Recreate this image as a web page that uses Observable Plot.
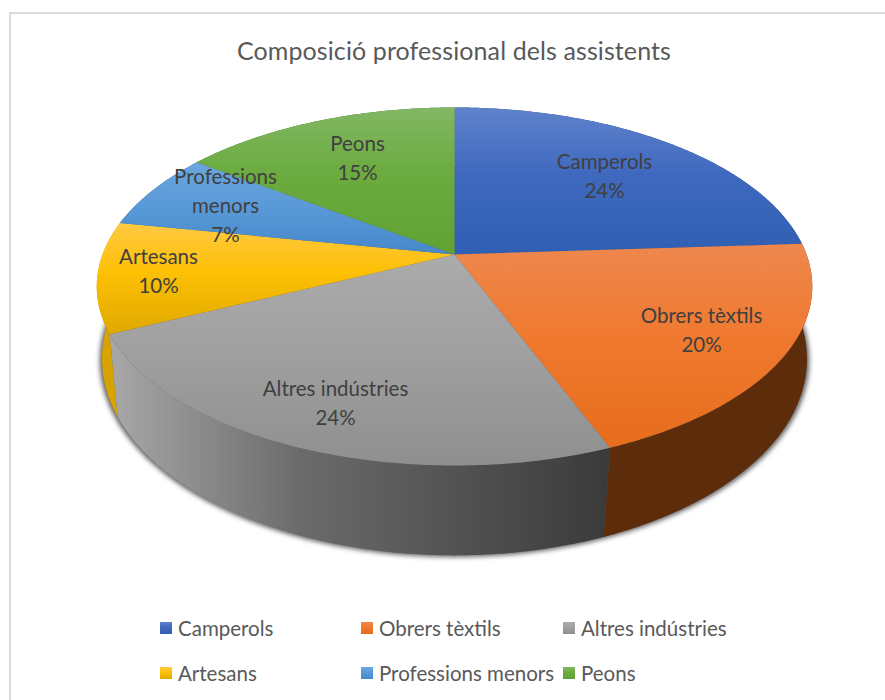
<!DOCTYPE html>
<html>
<head>
<meta charset="utf-8">
<script src="https://cdn.jsdelivr.net/npm/d3@7"></script>
<script src="https://cdn.jsdelivr.net/npm/@observablehq/plot@0.6"></script>
<style>
html,body{margin:0;padding:0;background:#fff;}
#frame{position:relative;width:885px;height:700px;overflow:hidden;font-family:Lato,sans-serif;}
#border{position:absolute;left:9px;top:12px;width:900px;height:720px;border:2px solid #d9d9d9;box-sizing:border-box;}
#title{position:absolute;left:0;top:32px;width:908px;height:36px;line-height:36px;text-align:center;font-size:25px;color:#595959;letter-spacing:.1px;}
#chart{position:absolute;left:0;top:90px;}
#chart svg{display:block;}
#legend{position:absolute;left:160px;top:610px;display:grid;grid-template-columns:201px 202px auto;grid-auto-rows:45px;font-size:20.5px;color:#595959;line-height:36px;}
.item{display:flex;align-items:center;height:36px;white-space:nowrap;}
.sw{display:inline-block;width:12px;height:12px;margin-right:6px;}
</style>
</head>
<body>
<div id="frame">
<div id="border"></div>
<div id="title"></div>
<div id="chart"></div>
<div id="legend"></div>
</div>
<script>
const chartTitle = "Composició professional dels assistents";
const categories = ["Camperols", "Obrers tèxtils", "Altres indústries", "Artesans", "Professions menors", "Peons"];
const shares = [24, 20, 24, 10, 7, 15];
const faceStops = [
  ["#5f82cb", "#3f69bf", "#2f5fb3"],
  ["#ee884f", "#f0792f", "#e76d1c"],
  ["#ababab", "#a0a0a0", "#8f8f8f"],
  ["#ffc943", "#fdc004", "#dfa800"],
  ["#6aa6de", "#5a9ad8", "#4688cb"],
  ["#82b764", "#6bab3f", "#61a233"]
];
const sideFills = ["#2a4a85", "#5d2c0b", "url(#side-grey)", "#d8a300", "#2f6496", "#42701f"];
const labelLines = [["Camperols"], ["Obrers tèxtils"], ["Altres indústries"], ["Artesans"], ["Professions", "menors"], ["Peons"]];
// label centres and pie layout, in page pixels of the SVG
const labelCentres = [[604, 84], [701, 238], [335, 311], [158, 179], [225, 113], [357, 66]];

const W = 885, H = 480;
const cx = 454, cy = 164, R = 352, S = 173.3, k = 0.1787;
const bottomScale = 0.99, bottomK = 0.15, bottomY = 75, bottomS = 192 / S;

// perspective projection of a disc point onto unit axes
function rim(theta, scale = 1, dy = 0, sy = 1, kk = k) {
  const u = Math.sin(theta), v = -Math.cos(theta), d = 1 - kk * v;
  return {x: scale * u / d, y: dy / S + sy * v / d};
}
function arc(a, b, scale, dy, sy, kk) {
  const n = Math.max(2, Math.ceil(Math.abs(b - a) * 90));
  return d3.range(n + 1).map(i => rim(a + (b - a) * i / n, scale, dy, sy, kk));
}
const pie = d3.pie().sort(null)(shares);
const slices = pie.map((p, i) => ({i, a: p.startAngle, b: p.endAngle}));

const faces = slices.map(s => [{x: 0, y: 0}, ...arc(s.a, s.b, 1, 0, 1, k)]);
const sides = slices.map(s => [...arc(s.a, s.b, 1, 0, 1, k), ...arc(s.b, s.a, bottomScale, bottomY, bottomS, bottomK)]);
const shadow = arc(0, 2 * Math.PI, bottomScale * 1.006, bottomY + 1.5, bottomS, bottomK);

const labels = labelLines.map((l, i) => ({
  text: [...l, shares[i] + "%"].join("\n"),
  x: (labelCentres[i][0] - cx) / R,
  y: (labelCentres[i][1] - cy) / S
}));

function gradientDefs() {
  const ns = "http://www.w3.org/2000/svg";
  const defs = document.createElementNS(ns, "defs");
  const add = (id, x2, y2, stops) => {
    const g = document.createElementNS(ns, "linearGradient");
    g.setAttribute("id", id);
    g.setAttribute("x1", 0); g.setAttribute("y1", 0);
    g.setAttribute("x2", x2); g.setAttribute("y2", y2);
    stops.forEach(([o, c]) => {
      const s = document.createElementNS(ns, "stop");
      s.setAttribute("offset", o); s.setAttribute("stop-color", c);
      g.appendChild(s);
    });
    defs.appendChild(g);
  };
  faceStops.forEach((c, i) => add("face-" + i, 0, 1, [[0, c[0]], [0.45, c[1]], [1, c[2]]]));
  add("side-grey", 1, 0, [[0, "#a8a8a8"], [0.38, "#6b6b6b"], [0.7, "#525252"], [1, "#3a3a3a"]]);
  return defs;
}

const sideOrder = [0, 5, 4, 3, 1, 2];
const plot = Plot.plot({
  width: W, height: H, margin: 0,
  style: {background: "transparent", overflow: "visible"},
  x: {domain: [-1, 1], range: [cx - R, cx + R], axis: null},
  y: {domain: [-1, 1], range: [cy - S, cy + S], axis: null},
  marks: [
    gradientDefs,
    Plot.line(shadow, {x: "x", y: "y", fill: "#5a5a5a", stroke: "none", curve: "linear-closed", imageFilter: "blur(2.5px)"}),
    ...sideOrder.map(i => Plot.line(sides[i], {x: "x", y: "y", fill: sideFills[i], stroke: "none", curve: "linear-closed"})),
    ...faces.map((f, i) => Plot.line(f, {x: "x", y: "y", fill: `url(#face-${i})`, stroke: "none", curve: "linear-closed"})),
    Plot.text(labels, {x: "x", y: "y", text: "text", fontSize: 20.5, lineHeight: 1.42, fill: "#404040", fontFamily: "Lato, sans-serif", textAnchor: "middle"})
  ]
});
document.getElementById("chart").appendChild(plot);
document.getElementById("title").textContent = chartTitle;

const legend = document.getElementById("legend");
categories.forEach((c, i) => {
  const it = document.createElement("div");
  it.className = "item";
  const sw = document.createElement("span");
  sw.className = "sw";
  sw.style.background = `linear-gradient(${faceStops[i][0]}, ${faceStops[i][1]} 45%, ${faceStops[i][2]})`;
  it.appendChild(sw);
  it.appendChild(document.createTextNode(c));
  legend.appendChild(it);
});
</script>
</body>
</html>
